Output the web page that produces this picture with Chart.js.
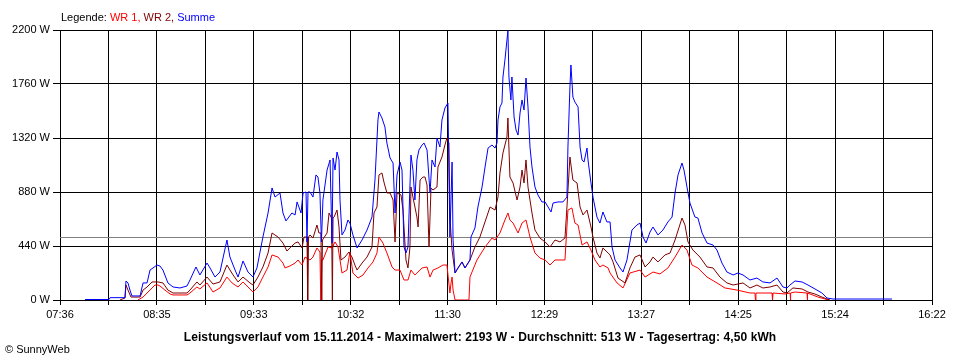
<!DOCTYPE html>
<html>
<head>
<meta charset="utf-8">
<script src="https://cdn.jsdelivr.net/npm/chart.js@4.4.0/dist/chart.umd.min.js"></script>
<style>
  html, body { margin: 0; padding: 0; background: #fff; }
  #wrap { width: 960px; height: 360px; }
</style>
</head>
<body>
<div id="wrap"><canvas id="myChart" width="960" height="360"></canvas></div>
<script>
// time in minutes after midnight, value in W
var xTickLabels = ['07:36','08:35','09:33','10:32','11:30','12:29','13:27','14:25','15:24','16:22'];
var startMin = 456, endMin = 982;
var avgValue = 513;

var summe = [[471.1,4],[485.6,4],[486.2,19],[495.2,19],[495.8,155],[497.0,139],[498.2,81],[499.4,33],[504.3,33],[506.1,139],[508.5,139],[510.3,244],[512.1,261],[514.5,285],[516.3,277],[518.1,244],[521.1,139],[524.2,106],[528.4,98],[532.6,114],[534.4,163],[538.0,269],[540.4,204],[544.7,301],[546.5,261],[549.5,187],[552.5,228],[556.7,489],[558.5,350],[561.6,244],[563.4,187],[566.4,318],[569.4,228],[572.4,187],[574.8,261],[578.4,513],[581.5,709],[583.9,913],[585.7,839],[588.7,872],[590.5,709],[592.3,644],[595.9,709],[597.8,693],[599.0,799],[601.4,709],[602.6,872],[604.4,880],[605.0,473],[605.6,880],[606.8,880],[608.6,839],[610.4,1019],[611.6,1002],[612.8,872],[613.7,473],[614.6,815],[617.1,1059],[618.9,1141],[620.1,464],[620.7,1157],[621.9,1059],[623.1,1206],[624.3,1141],[624.9,815],[626.1,530],[627.9,570],[629.7,652],[630.9,627],[632.7,530],[635.2,424],[638.2,489],[641.2,570],[644.2,676],[646.0,978],[647.8,1467],[648.4,1532],[650.2,1483],[652.0,1410],[653.2,1279],[655.1,1157],[656.9,1116],[658.1,709],[659.3,1019],[661.1,1124],[662.3,1059],[663.5,432],[664.7,383],[665.9,432],[667.7,1181],[668.9,1059],[670.1,815],[671.3,1141],[672.5,1222],[674.4,1263],[675.6,1279],[677.4,1222],[679.2,872],[680.4,1141],[682.2,1084],[683.4,1320],[685.2,1247],[686.4,1467],[688.2,1564],[690.0,1605],[691.2,513],[692.5,1124],[693.1,489],[694.3,220],[696.1,261],[698.5,310],[700.3,261],[703.3,326],[703.9,513],[706.3,587],[708.1,758],[710.6,921],[712.4,1084],[714.2,1238],[716.6,1263],[718.4,1238],[719.6,1279],[720.2,1467],[721.4,1573],[722.6,1605],[723.2,1817],[724.4,1956],[725.6,2118],[726.2,2193],[726.8,1817],[728.0,1630],[728.6,1817],[729.9,1491],[731.1,1385],[732.3,1344],[733.5,1524],[734.7,1630],[735.9,1548],[737.1,1809],[738.3,1573],[739.5,1247],[740.7,1084],[742.5,921],[744.3,856],[746.7,799],[748.6,799],[750.4,758],[752.2,717],[753.4,790],[756.4,799],[759.4,799],[761.8,839],[762.4,1247],[763.6,1736],[764.2,1915],[765.4,1654],[766.6,1613],[768.5,1573],[769.7,1247],[770.9,1141],[772.1,1124],[773.9,1238],[774.5,1141],[776.3,953],[777.5,839],[779.9,676],[781.7,627],[783.5,717],[785.9,636],[787.8,636],[789.0,432],[790.8,326],[793.8,261],[795.6,228],[798.0,326],[801.0,570],[804.0,611],[805.9,627],[807.7,513],[809.5,464],[811.9,554],[813.7,595],[816.7,530],[819.7,570],[822.7,636],[825.2,676],[827.0,872],[828.8,1019],[831.2,1116],[832.4,1059],[834.2,921],[836.0,790],[839.0,676],[840.8,668],[843.3,546],[846.3,464],[849.9,448],[852.3,407],[855.3,301],[858.3,228],[862.0,204],[865.0,220],[868.0,204],[872.2,163],[876.4,179],[880.0,147],[884.3,139],[888.5,179],[892.1,106],[894.5,98],[896.3,122],[899.4,155],[903.6,147],[907.2,122],[911.4,90],[915.6,57],[918.7,16],[922.3,8],[957.9,8]];

var wr2 = [[492.2,0],[495.2,16],[495.8,122],[497.0,81],[498.8,24],[504.3,24],[506.1,81],[508.5,106],[511.5,147],[515.1,147],[518.1,139],[521.1,81],[524.2,57],[532.6,57],[534.4,81],[538.6,147],[540.4,122],[544.7,187],[548.3,130],[552.5,147],[556.7,285],[560.4,204],[563.4,147],[566.4,187],[570.6,139],[572.4,122],[575.4,187],[578.4,269],[581.5,383],[583.9,546],[587.5,513],[590.5,464],[592.9,399],[594.7,424],[597.8,464],[599.6,473],[602.0,424],[603.2,513],[605.0,513],[605.4,0],[605.9,513],[606.8,530],[608.6,505],[611.0,611],[612.2,546],[613.4,546],[613.9,0],[614.3,489],[617.1,546],[618.3,709],[619.8,668],[620.3,0],[620.7,668],[621.3,676],[623.1,733],[624.3,595],[625.5,326],[627.9,350],[630.3,391],[632.1,350],[633.9,285],[635.2,244],[638.2,301],[641.2,350],[644.2,432],[645.4,709],[647.2,758],[648.4,1019],[650.2,1035],[651.4,961],[653.2,872],[655.1,872],[656.9,815],[658.1,473],[659.3,872],[661.7,856],[662.9,733],[664.7,326],[665.9,261],[667.1,432],[667.7,921],[668.9,839],[671.3,676],[672.0,595],[673.2,978],[675.0,1002],[676.2,1002],[677.4,937],[678.6,432],[679.8,913],[681.0,896],[683.4,921],[684.0,1084],[686.4,1165],[688.2,1263],[689.4,1320],[690.6,1279],[691.2,676],[692.5,407],[694.3,220],[696.1,261],[698.5,310],[700.3,261],[703.3,326],[706.3,432],[709.3,513],[715.4,758],[718.4,733],[720.2,839],[721.4,1035],[723.2,1198],[724.4,1263],[725.6,1328],[726.2,1483],[727.4,1002],[729.3,953],[731.7,815],[733.5,921],[734.7,1059],[735.9,953],[737.1,1141],[738.3,921],[740.7,709],[742.5,570],[745.5,505],[748.6,473],[751.6,432],[754.6,489],[757.6,473],[760.6,505],[761.8,758],[763.6,1165],[765.4,978],[767.9,953],[769.7,758],[771.5,693],[773.9,733],[776.3,595],[777.5,513],[779.9,383],[781.7,342],[783.5,424],[786.6,383],[787.8,367],[789.6,310],[792.6,179],[796.8,139],[799.8,261],[802.8,350],[805.9,367],[808.9,269],[811.9,310],[813.7,350],[816.7,310],[820.9,367],[824.0,383],[827.0,489],[831.2,668],[833.0,611],[834.8,473],[837.8,407],[842.0,350],[846.3,269],[849.9,261],[854.1,187],[858.3,139],[862.0,122],[868.0,139],[872.2,98],[876.4,122],[880.0,98],[884.3,106],[888.5,122],[892.1,65],[894.5,57],[898.1,98],[903.6,90],[907.2,65],[911.4,49],[915.6,24],[918.7,8],[920.5,0]];

var wr1 = [[503.0,0],[506.1,24],[508.5,57],[510.3,81],[513.3,122],[515.1,122],[516.3,114],[519.3,81],[522.4,49],[524.2,41],[532.6,41],[534.4,57],[538.6,106],[540.4,90],[544.7,139],[548.3,65],[552.5,98],[556.7,187],[559.8,139],[561.6,122],[563.4,106],[566.4,147],[569.4,106],[572.4,65],[575.4,106],[578.4,187],[581.5,269],[583.9,367],[587.5,350],[590.5,301],[591.7,261],[594.7,277],[597.8,301],[599.6,326],[602.0,285],[603.8,350],[606.8,326],[608.6,350],[611.0,424],[612.8,391],[613.3,0],[613.7,326],[614.6,326],[617.7,432],[620.1,424],[621.9,473],[623.7,432],[626.1,220],[629.1,244],[630.9,391],[632.7,220],[635.8,179],[638.8,204],[641.8,261],[644.8,310],[647.2,383],[648.4,513],[650.8,464],[653.2,383],[656.3,269],[658.1,244],[661.1,244],[663.5,163],[665.9,163],[667.7,244],[670.1,204],[671.3,220],[674.4,261],[677.4,269],[679.2,187],[681.0,244],[684.0,261],[687.0,285],[689.4,285],[691.2,57],[691.9,139],[692.5,187],[693.1,81],[694.3,0],[702.7,0],[703.3,187],[707.5,326],[712.4,432],[716.6,505],[718.4,489],[721.4,546],[724.4,652],[726.2,709],[727.4,652],[729.3,627],[732.3,546],[734.7,627],[737.1,652],[739.5,513],[742.5,383],[745.5,342],[748.6,326],[751.6,285],[754.6,326],[760.6,326],[762.4,733],[764.8,750],[766.6,627],[768.5,611],[770.9,448],[773.9,473],[776.3,407],[778.7,326],[781.7,269],[783.5,285],[786.6,261],[787.8,220],[792.0,139],[795.6,98],[799.8,220],[805.9,244],[808.9,187],[813.7,228],[817.9,212],[822.7,261],[827.0,350],[831.2,448],[834.2,407],[837.2,285],[840.8,261],[846.3,187],[852.3,139],[857.1,98],[864.4,81],[872.2,57],[875.2,57],[875.5,0],[875.8,57],[885.5,57],[885.8,0],[886.1,57],[893.3,49],[896.4,57],[896.6,0],[896.8,57],[899.4,65],[906.6,57],[906.8,0],[907.0,57],[913.2,24],[917.5,8],[919.3,0]];

var titel = 'Leistungsverlauf vom 15.11.2014 - Maximalwert: 2193 W - Durchschnitt: 513 W - Tagesertrag: 4,50 kWh';
var FONT = '"Liberation Sans", Arial, sans-serif';

function punkte(serie){
  return serie.map(function(p){ return {x:p[0], y:p[1]}; });
}

// 18 Intervalle, Beschriftung nur jede zweite Linie
var xGrid = [];
for (var i = 0; i <= 18; i++) {
  xGrid.push(startMin + i * (endMin - startMin) / 18);
}

var textPlugin = {
  id: 'texte',
  beforeDraw: function(chart){
    var ctx = chart.ctx;
    ctx.save();
    ctx.fillStyle = '#fff';
    ctx.fillRect(0, 0, chart.width, chart.height);
    ctx.restore();
  },
  beforeDatasetsDraw: function(chart){
    // Durchschnittslinie, pixelgenau
    var ctx = chart.ctx, a = chart.chartArea;
    var y = Math.round(chart.scales.y.getPixelForValue(avgValue)) + 0.5;
    ctx.save();
    ctx.strokeStyle = '#808080';
    ctx.lineWidth = 1;
    ctx.beginPath();
    ctx.moveTo(a.left, y);
    ctx.lineTo(a.right, y);
    ctx.stroke();
    ctx.restore();
  },
  afterDraw: function(chart){
    var ctx = chart.ctx;
    ctx.save();
    ctx.textBaseline = 'alphabetic';
    ctx.font = '11px ' + FONT;
    // Legende
    var teile = [['Legende: ', '#000'], ['WR 1, ', '#ff0000'], ['WR 2, ', '#800000'], ['Summe', '#0000ff']];
    var x = 61;
    teile.forEach(function(t){
      ctx.fillStyle = t[1];
      ctx.fillText(t[0], x, 21);
      x += ctx.measureText(t[0]).width;
    });
    // Titel unten
    ctx.font = 'bold 12px ' + FONT;
    ctx.letterSpacing = '0.1px';
    ctx.fillStyle = '#000';
    ctx.textAlign = 'center';
    ctx.fillText(titel, 480, 341);
    ctx.letterSpacing = '0px';
    ctx.textAlign = 'left';
    ctx.font = '11px ' + FONT;
    ctx.fillText('\u00A9 SunnyWeb', 5, 353);
    ctx.restore();
  }
};

var ctx = document.getElementById('myChart').getContext('2d');
var chart = new Chart(ctx, {
  type: 'line',
  data: {
    datasets: [{
      label: 'Summe',
      data: punkte(summe),
      borderColor: '#0000ff',
      borderWidth: 1,
      order: 0
    }, {
      label: 'WR 2',
      data: punkte(wr2),
      borderColor: '#800000',
      borderWidth: 1,
      order: 1
    }, {
      label: 'WR 1',
      data: punkte(wr1),
      borderColor: '#ff0000',
      borderWidth: 1,
      order: 2
    }]
  },
  options: {
    responsive: false,
    animation: false,
    devicePixelRatio: 1,
    elements: { point: { radius: 0 }, line: { tension: 0 } },
    layout: { padding: { left: 0, right: 28, top: 30, bottom: 40 } },
    plugins: { legend: { display: false }, tooltip: { enabled: false } },
    scales: {
      x: {
        type: 'linear',
        min: startMin,
        max: endMin,
        afterBuildTicks: function(scale){
          scale.ticks = xGrid.map(function(v){ return {value: v}; });
        },
        afterFit: function(scale){ scale.height = 20; },
        grid: { color: '#000', lineWidth: 1, tickLength: 5 },
        border: { color: '#000' },
        ticks: {
          autoSkip: false, maxRotation: 0, minRotation: 0, padding: 3,
          color: '#000', font: { family: FONT, size: 11 },
          callback: function(v, i){ return i % 2 === 0 ? xTickLabels[i / 2] : ''; }
        }
      },
      y: {
        min: 0,
        max: 2200,
        afterFit: function(scale){ scale.width = 60; },
        grid: { color: '#000', lineWidth: 1, tickLength: 7 },
        border: { color: '#000' },
        ticks: {
          stepSize: 440, padding: 3,
          color: '#000', font: { family: FONT, size: 11 },
          callback: function(v){ return v + ' W'; }
        }
      }
    }
  },
  plugins: [textPlugin]
});
</script>
</body>
</html>
